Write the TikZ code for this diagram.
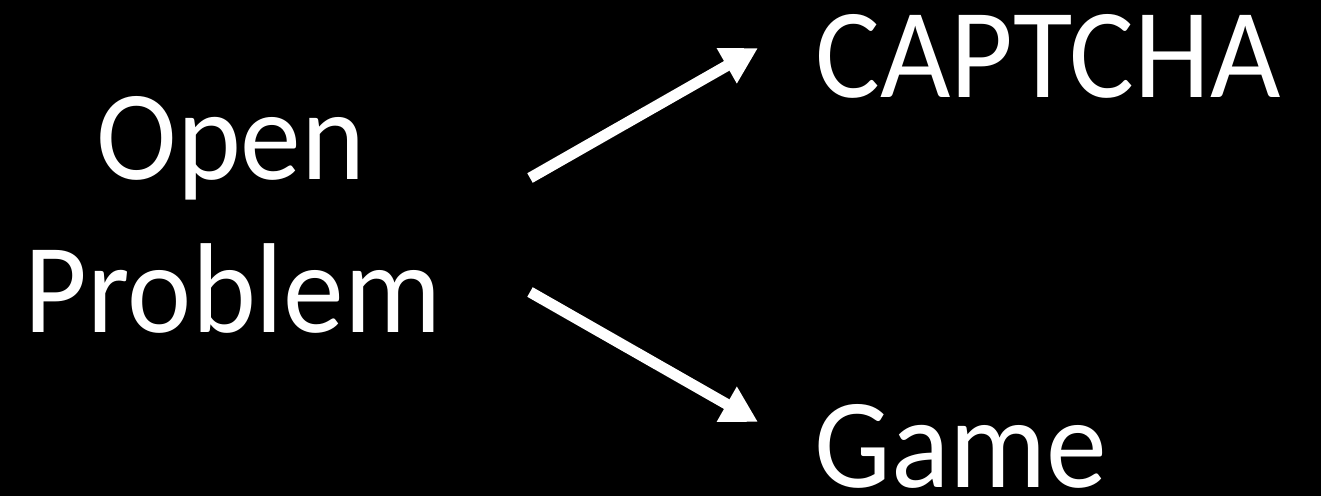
\documentclass[tikz,border=0pt]{standalone}
\usepackage{fontspec}
\setmainfont{Carlito}[FakeStretch=0.95]
\usetikzlibrary{arrows.meta}
\begin{document}
\begin{tikzpicture}[x=1pt,y=-1pt,
  lbl/.style={text=white,inner sep=0pt,anchor=base,text depth=0pt,font=\fontsize{128}{153}\selectfont},
  arr/.style={draw=white,line width=11pt,-{Triangle[length=36pt,width=38pt]}}]
\fill[black] (0,0) rectangle (1321,496);
\useasboundingbox (0,0) rectangle (1321,496);
\node[lbl] (open) at (231,179) {Open};
\node[lbl] (problem) at (233,332) {Problem};
\node[lbl] (captcha) at (1048,97) {CAPTCHA};
\node[lbl] (game) at (961,487) {Game};
\coordinate (s1) at (530,178);
\coordinate (e1) at (758,48);
\coordinate (s2) at (530,292);
\coordinate (e2) at (758,422);
\draw[arr] (s1) -- (e1);
\draw[arr] (s2) -- (e2);
\end{tikzpicture}
\end{document}
